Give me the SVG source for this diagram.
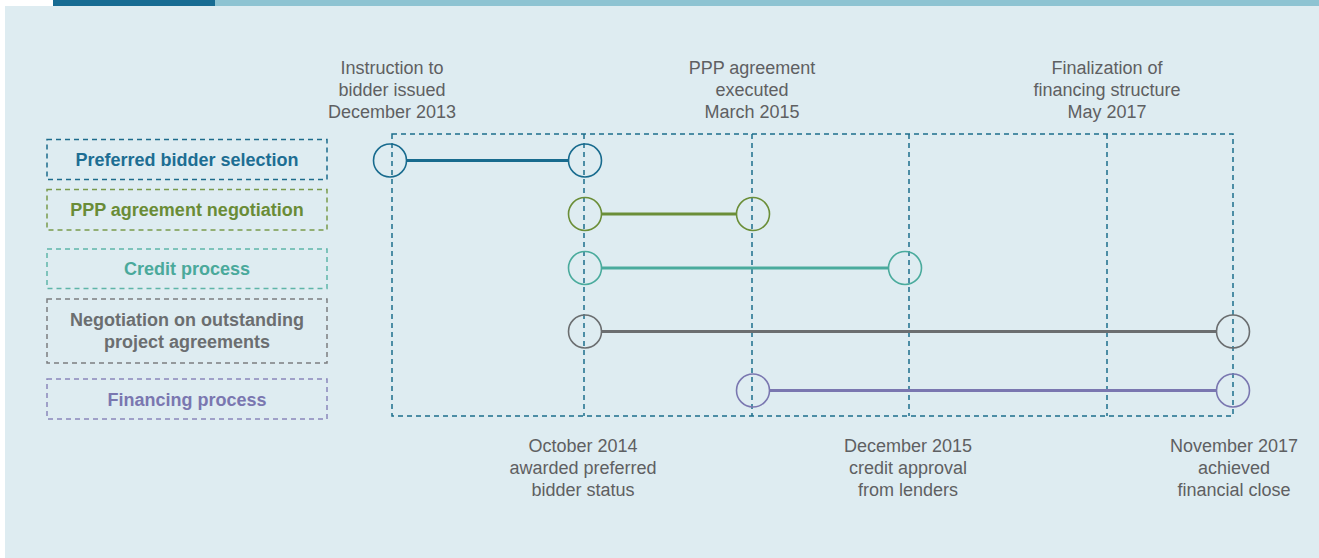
<svg xmlns="http://www.w3.org/2000/svg" width="1319" height="558" viewBox="0 0 1319 558">
<style>
.gt{font-family:"Liberation Sans",Arial,sans-serif;font-size:18px;fill:#5e6062;text-anchor:middle}
.lt{font-family:"Liberation Sans",Arial,sans-serif;font-size:18px;font-weight:bold;text-anchor:middle}
.frame{fill:none;stroke:#1d6e8c;stroke-width:1.5;stroke-dasharray:5 4}
.box{fill:none;stroke-width:1.5;stroke-dasharray:5 4}
.ring{fill:none;stroke-width:1.6}
.bar{stroke-width:3;fill:none}
</style>
<rect x="0" y="0" width="1319" height="558" fill="#ffffff"/>
<rect x="5" y="6" width="1314" height="552" fill="#deecf1"/>
<rect x="53" y="0" width="162" height="6" fill="#176c93"/>
<rect x="215" y="0" width="1104" height="6" fill="#8dc3d2"/>

<g id="frame">
<rect class="frame" x="392" y="134" width="841" height="282"/>
<line class="frame" x1="584" y1="134" x2="584" y2="416"/>
<line class="frame" x1="752" y1="134" x2="752" y2="416"/>
<line class="frame" x1="909" y1="134" x2="909" y2="416"/>
<line class="frame" x1="1107" y1="134" x2="1107" y2="416"/>
</g>

<g id="milestone-labels">
<text class="gt" x="392" y="74">Instruction to</text>
<text class="gt" x="392" y="96">bidder issued</text>
<text class="gt" x="392" y="118">December 2013</text>
<text class="gt" x="752" y="74">PPP agreement</text>
<text class="gt" x="752" y="96">executed</text>
<text class="gt" x="752" y="118">March 2015</text>
<text class="gt" x="1107" y="74">Finalization of</text>
<text class="gt" x="1107" y="96">financing structure</text>
<text class="gt" x="1107" y="118">May 2017</text>
<text class="gt" x="583" y="452">October 2014</text>
<text class="gt" x="583" y="474">awarded preferred</text>
<text class="gt" x="583" y="496">bidder status</text>
<text class="gt" x="908" y="452">December 2015</text>
<text class="gt" x="908" y="474">credit approval</text>
<text class="gt" x="908" y="496">from lenders</text>
<text class="gt" x="1234" y="452">November 2017</text>
<text class="gt" x="1234" y="474">achieved</text>
<text class="gt" x="1234" y="496">financial close</text>
</g>

<g id="node-preferred-bidder">
<rect class="box" x="47" y="139.5" width="280" height="40" stroke="#1d6b8c"/>
<text class="lt" x="187" y="165.5" fill="#1d6e93">Preferred bidder selection</text>
</g>
<g id="node-ppp-negotiation">
<rect class="box" x="47" y="189.5" width="280" height="40.5" stroke="#7a9a4c"/>
<text class="lt" x="187" y="215.5" fill="#6a8c37">PPP agreement negotiation</text>
</g>
<g id="node-credit">
<rect class="box" x="47" y="249" width="280" height="39.5" stroke="#5fb5a9"/>
<text class="lt" x="187" y="275" fill="#4aa99b">Credit process</text>
</g>
<g id="node-outstanding">
<rect class="box" x="47" y="299" width="280" height="64" stroke="#7c7e80"/>
<text class="lt" x="187" y="326" fill="#6b6e70">Negotiation on outstanding</text>
<text class="lt" x="187" y="347.5" fill="#6b6e70">project agreements</text>
</g>
<g id="node-financing">
<rect class="box" x="47" y="379" width="280" height="40" stroke="#8a87bb"/>
<text class="lt" x="187" y="405.5" fill="#7a77b0">Financing process</text>
</g>

<g id="connectors">
<g stroke="#186b8e">
<line class="bar" x1="406.5" y1="160.5" x2="568.5" y2="160.5"/>
<circle class="ring" cx="390" cy="160.5" r="16.5"/>
<circle class="ring" cx="585" cy="160.5" r="16.5"/>
</g>
<g stroke="#6b8e38">
<line class="bar" x1="601.5" y1="214" x2="736.5" y2="214"/>
<circle class="ring" cx="585" cy="214" r="16.5"/>
<circle class="ring" cx="753" cy="214" r="16.5"/>
</g>
<g stroke="#4aab9d">
<line class="bar" x1="601.5" y1="268" x2="888.5" y2="268"/>
<circle class="ring" cx="585" cy="268" r="16.5"/>
<circle class="ring" cx="905" cy="268" r="16.5"/>
</g>
<g stroke="#6b6e70">
<line class="bar" x1="601.5" y1="331.5" x2="1216.5" y2="331.5"/>
<circle class="ring" cx="585" cy="331.5" r="16.5"/>
<circle class="ring" cx="1233" cy="331.5" r="16.5"/>
</g>
<g stroke="#7a77b0">
<line class="bar" x1="769.5" y1="390.5" x2="1216.5" y2="390.5"/>
<circle class="ring" cx="753" cy="390.5" r="16.5"/>
<circle class="ring" cx="1233" cy="390.5" r="16.5"/>
</g>
</g>
</svg>
